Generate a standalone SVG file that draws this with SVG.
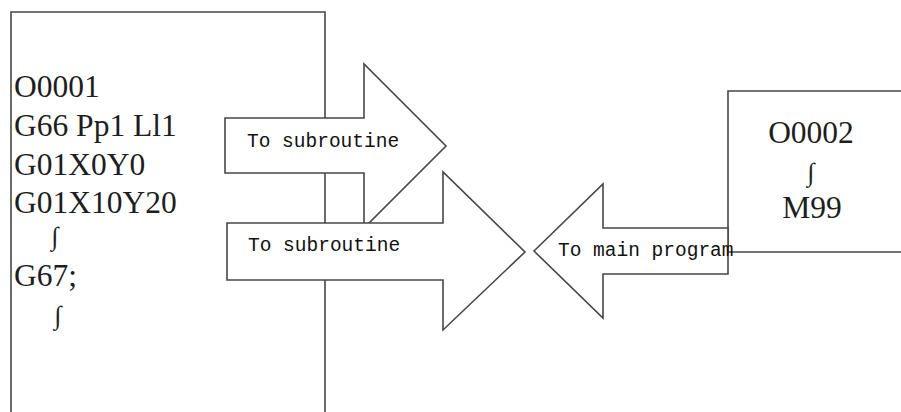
<svg xmlns="http://www.w3.org/2000/svg" width="901" height="412" viewBox="0 0 901 412">
<style>
.ln{fill:#fff;stroke:#474747;stroke-width:1.6;stroke-linejoin:miter}
.code{font-family:"Liberation Serif","Times New Roman",serif;font-size:31.5px;fill:#1e1e1e}
.sq{font-family:"Liberation Serif","DejaVu Serif",serif;font-size:26px;fill:#1e1e1e}
.lbl{font-family:"Liberation Mono","Courier New",monospace;font-size:19.5px;fill:#111}
</style>
<rect width="901" height="412" fill="#fff"/>
<g id="main-program">
<path class="ln" d="M11,413 V12 H325 V413"/>
<text class="code" x="14" y="97">O0001</text>
<text class="code" x="14" y="136">G66 Pp1 Ll1</text>
<text class="code" x="14" y="175">G01X0Y0</text>
<text class="code" x="14" y="213">G01X10Y20</text>
<text class="sq" x="55" y="245" text-anchor="middle">∫</text>
<text class="code" x="14" y="286">G67;</text>
<text class="sq" x="58" y="324" text-anchor="middle">∫</text>
</g>
<g id="subroutine">
<path class="ln" d="M902,91 H728 V252 H902"/>
<text class="code" x="811" y="143" text-anchor="middle">O0002</text>
<text class="sq" x="811" y="181" text-anchor="middle">∫</text>
<text class="code" x="812" y="218" text-anchor="middle">M99</text>
</g>
<g id="connectors">
<g id="arrow-to-sub-1">
<polygon class="ln" points="225,118 364,118 364,64 446,146 364,228 364,173 225,173"/>
<text class="lbl" x="247" y="147">To subroutine</text>
</g>
<g id="arrow-to-sub-2">
<polygon class="ln" points="227,223 443,223 443,172 525,252 443,330 443,280 227,280"/>
<text class="lbl" x="248" y="251">To subroutine</text>
</g>
<g id="arrow-to-main">
<polygon class="ln" points="534,251 603,184 603,228 728,228 728,274 603,274 603,318"/>
<text class="lbl" x="558" y="256">To main program</text>
</g>
</g>
</svg>
